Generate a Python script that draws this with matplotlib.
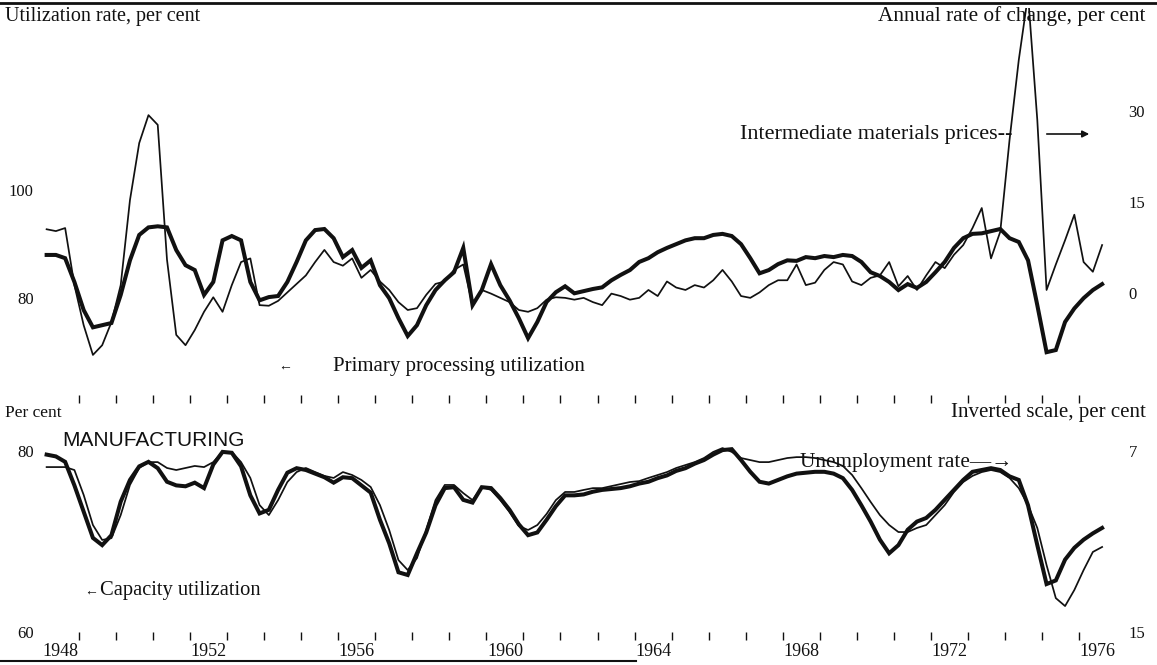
import numpy as np
import matplotlib
matplotlib.use("Agg")
import matplotlib.pyplot as plt
from matplotlib.lines import Line2D

# Quarterly series, 1948 Q1 - 1976 Q3
start_year = 1948
primary_processing_util = [
    88.0, 88.0, 87.4, 83.0, 77.8, 74.6, 75.0, 75.4, 80.6, 87.0,
    91.7, 93.1, 93.3, 93.1, 88.9, 86.1, 85.2, 80.6, 83.0, 90.7,
    91.5, 90.7, 83.0, 79.6, 80.2, 80.4, 83.0, 86.7, 90.7, 92.6,
    92.8, 91.1, 87.6, 88.9, 85.6, 87.0, 82.4, 80.0, 76.3, 73.0,
    75.0, 78.7, 81.5, 83.3, 84.8, 89.3, 78.7, 81.5, 86.3, 82.4,
    79.6, 76.3, 72.6, 75.6, 79.3, 81.1, 82.2, 80.9, 81.3, 81.7,
    82.0, 83.3, 84.3, 85.2, 86.7, 87.4, 88.5, 89.3, 90.0, 90.7,
    91.1, 91.1, 91.7, 91.9, 91.5, 90.0, 87.4, 84.6, 85.2, 86.3,
    87.0, 86.9, 87.6, 87.4, 87.8, 87.6, 88.0, 87.8, 86.7, 84.8,
    84.1, 83.0, 81.5, 82.6, 81.9, 83.0, 84.8, 86.7, 89.3, 91.1,
    91.9, 92.0, 92.4, 92.8, 91.1, 90.4, 87.0, 78.7, 70.0, 70.4,
    75.6, 78.1, 80.0, 81.5, 82.6,
]
intermediate_prices_chg = [
    10.5, 10.2, 10.7, 1.3, -5.3, -10.2, -8.6, -4.8, 1.3, 15.3,
    24.7, 29.3, 27.7, 5.5, -6.9, -8.6, -6.1, -3.1, -0.7, -3.1,
    1.3, 5.1, 5.7, -2.0, -2.1, -1.3, 0.1, 1.5, 2.9, 5.1,
    7.1, 5.1, 4.5, 5.7, 2.5, 3.8, 1.9, 0.5, -1.5, -2.8,
    -2.5, -0.3, 1.5, 1.9, 3.8, 4.7, -2.0, 0.5, -0.1, -0.8,
    -1.5, -2.8, -3.1, -2.5, -1.1, -0.7, -0.8, -1.1, -0.8, -1.5,
    -2.0, -0.1, -0.5, -1.1, -0.8, 0.5, -0.5, 1.9, 0.9, 0.5,
    1.3, 0.9, 2.1, 3.8, 1.9, -0.5, -0.8, 0.1, 1.3, 2.1,
    2.1, 4.7, 1.3, 1.7, 3.8, 5.1, 4.7, 1.9, 1.3, 2.5,
    2.9, 5.1, 1.1, 2.8, 0.5, 2.9, 5.1, 4.1, 6.3, 7.9,
    10.7, 14.0, 5.7, 10.1, 25.2, 38.4, 49.1, 28.5, 0.5, 4.7,
    8.7, 12.9, 5.1, 3.5, 7.9,
]
capacity_util = [
    79.6, 79.4, 78.8, 76.2, 73.3, 70.4, 69.6, 70.7, 74.4, 76.8,
    78.3, 78.8, 78.1, 76.6, 76.2, 76.1, 76.5, 75.9, 78.5, 79.9,
    79.8, 78.3, 75.1, 73.1, 73.5, 75.7, 77.6, 78.1, 77.9, 77.5,
    77.1, 76.5, 77.1, 77.0, 76.2, 75.4, 72.4, 69.8, 66.6, 66.3,
    68.7, 71.0, 74.0, 75.9, 76.0, 74.6, 74.3, 76.0, 75.9, 74.8,
    73.5, 71.9, 70.7, 71.0, 72.4, 73.9, 75.1, 75.1, 75.2, 75.5,
    75.7, 75.8, 75.9, 76.1, 76.4, 76.6, 77.0, 77.3, 77.8, 78.1,
    78.6, 79.0, 79.6, 80.1, 80.2, 79.0, 77.7, 76.6, 76.4, 76.8,
    77.2, 77.5, 77.6, 77.7, 77.7, 77.5, 77.0, 75.7, 74.0, 72.2,
    70.2, 68.7, 69.6, 71.3, 72.2, 72.6, 73.5, 74.6, 75.7, 76.8,
    77.7, 77.9, 78.1, 77.9, 77.2, 76.8, 74.0, 69.6, 65.3, 65.7,
    68.0, 69.3, 70.2, 70.9, 71.5,
]
unemployment_rate = [
    7.71, 7.71, 7.71, 7.84, 8.94, 10.27, 10.93, 10.85, 9.83, 8.50,
    7.75, 7.49, 7.49, 7.75, 7.84, 7.75, 7.66, 7.71, 7.49, 7.04,
    7.04, 7.49, 8.19, 9.39, 9.83, 9.17, 8.37, 7.93, 7.75, 7.93,
    8.10, 8.19, 7.93, 8.06, 8.28, 8.59, 9.39, 10.49, 11.82, 12.26,
    11.73, 10.49, 9.17, 8.50, 8.50, 8.86, 9.17, 8.59, 8.72, 9.17,
    9.70, 10.31, 10.49, 10.27, 9.78, 9.17, 8.81, 8.81, 8.72, 8.64,
    8.64, 8.55, 8.46, 8.37, 8.33, 8.19, 8.06, 7.93, 7.75, 7.62,
    7.49, 7.31, 7.04, 6.87, 7.04, 7.31, 7.40, 7.49, 7.49, 7.40,
    7.31, 7.27, 7.27, 7.31, 7.40, 7.49, 7.66, 8.06, 8.64, 9.25,
    9.83, 10.27, 10.58, 10.58, 10.40, 10.27, 9.83, 9.39, 8.81, 8.37,
    8.10, 7.93, 7.84, 7.93, 8.19, 8.64, 9.39, 10.40, 12.04, 13.50,
    13.85, 13.14, 12.26, 11.46, 11.24,
]
label_years = [1948, 1952, 1956, 1960, 1964, 1968, 1972, 1976]

quarters = start_year + 0.125 + 0.25 * np.arange(len(capacity_util))

W, H = 1157, 665
fig = plt.figure(figsize=(W / 100, H / 100), dpi=100)
fig.patch.set_facecolor("white")

SERIF = ["Liberation Serif", "DejaVu Serif"]
INK = "#111111"
THICK, THIN = 2.9, 1.25


def px_axes(x0, y0, x1, y1):
    return fig.add_axes([x0 / W, 1 - y1 / H, (x1 - x0) / W, (y1 - y0) / H])


def style(ax):
    for s in ax.spines.values():
        s.set_visible(False)
    ax.set_facecolor("none")
    ax.tick_params(axis="y", length=0, labelsize=12, colors=INK)
    for lab in ax.get_yticklabels():
        lab.set_fontfamily(SERIF)


def year_ticks(ax, labels):
    ax.set_xlim(1948, 1977)
    ax.set_xticks(np.arange(1949, 1977))
    ax.set_xticklabels([])
    ax.tick_params(axis="x", which="major", direction="in", length=5.5,
                   width=1.0, color=INK)
    if labels:
        ax.set_xticks([y + 0.5 for y in label_years], minor=True)
        ax.set_xticklabels([str(y) for y in label_years], minor=True,
                           fontsize=13, fontfamily=SERIF, color=INK)
        ax.tick_params(axis="x", which="minor", length=0, pad=2)


# ---- upper panel: primary processing ----
ax1 = px_axes(42, 8, 1116, 403)
style(ax1)
ax1.plot(quarters, primary_processing_util, color=INK, lw=THICK,
         solid_joinstyle="miter")
ax1.set_ylim(60.6, 133.7)
ax1.set_yticks([80, 100])
ax1.set_yticklabels(["80", "100"])
ax1.tick_params(axis="y", pad=6)
year_ticks(ax1, False)

ax1r = ax1.twinx()
style(ax1r)
ax1r.plot(quarters, intermediate_prices_chg, color=INK, lw=THIN)
ax1r.set_ylim(-18.12, 46.95)
ax1r.set_yticks([0, 15, 30])
ax1r.set_yticklabels(["0", "15", "30"])
ax1r.tick_params(axis="y", pad=9)
ax1r.set_xlim(1948, 1977)

# ---- lower panel: manufacturing ----
ax2 = px_axes(42, 405, 1116, 640)
style(ax2)
ax2.plot(quarters, capacity_util, color=INK, lw=THICK,
         solid_joinstyle="miter")
ax2.set_ylim(59.12, 85.08)
ax2.set_yticks([60, 80])
ax2.set_yticklabels(["60", "80"])
ax2.tick_params(axis="y", pad=6)
year_ticks(ax2, True)

ax2r = ax2.twinx()
style(ax2r)
ax2r.plot(quarters, unemployment_rate, color=INK, lw=THIN)
ax2r.set_ylim(15.35, 4.967)
ax2r.set_yticks([7, 15])
ax2r.set_yticklabels(["7", "15"])
ax2r.tick_params(axis="y", pad=9)
ax2r.set_xlim(1948, 1977)


def ftext(x, y, s, **kw):
    kw.setdefault("fontfamily", SERIF)
    kw.setdefault("fontsize", 15)
    kw.setdefault("color", INK)
    kw.setdefault("va", "center")
    fig.text(x / W, 1 - y / H, s, **kw)


ftext(5, 16, "Utilization rate, per cent", fontsize=14.5)
ftext(1146, 16, "Annual rate of change, per cent", ha="right", fontsize=15.3)
ftext(740, 134, "Intermediate materials prices--", fontsize=16)
fig.add_artist(plt.Annotation("", xy=(1092 / W, 1 - 134 / H),
                              xytext=(1044 / W, 1 - 134 / H),
                              xycoords="figure fraction",
                              arrowprops=dict(arrowstyle="-|>", color=INK,
                                              lw=1.2, mutation_scale=10)))
ftext(278, 366, "\u2190", fontsize=10)
ftext(333, 366, "Primary processing utilization", fontsize=15)

ftext(5, 413, "Per cent", fontsize=12.5)
ftext(1146, 413, "Inverted scale, per cent", ha="right", fontsize=15)
ftext(62, 441, "MANUFACTURING", fontfamily="Liberation Sans", fontsize=15)
ftext(800, 463, "Unemployment rate\u2014\u2192", fontsize=15.3)
ftext(84, 591, "\u2190", fontsize=10)
ftext(100, 591, "Capacity utilization", fontsize=14.8)

# page edges
fig.add_artist(Line2D([0, 1], [1 - 3 / H, 1 - 3 / H], color=INK, lw=2.0,
                      transform=fig.transFigure))
fig.add_artist(Line2D([0, 0.55], [1 - 661 / H, 1 - 661 / H], color=INK,
                      lw=1.5, transform=fig.transFigure))

fig.savefig("out.png", dpi=100, facecolor="white")
